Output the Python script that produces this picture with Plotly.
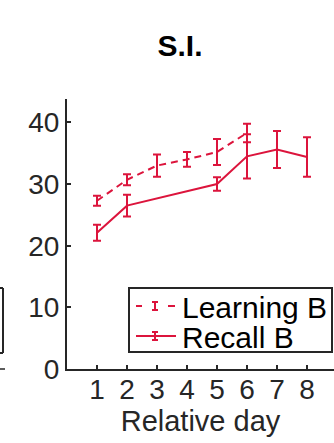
import plotly.graph_objects as go

learn_x = [1, 2, 3, 4, 5, 6]
learn_y = [27.3, 30.7, 33.0, 34.0, 35.2, 38.3]
learn_err = [0.8, 0.9, 1.8, 1.2, 2.1, 1.5]

recall_x = [1, 2, 5, 6, 7, 8]
recall_y = [22.1, 26.5, 30.0, 34.5, 35.6, 34.4]
recall_err = [1.3, 1.75, 1.1, 3.6, 3.0, 3.2]

x_ticks = [1, 2, 3, 4, 5, 6, 7, 8]
y_ticks = [0, 10, 20, 30, 40]
legend_names = ["Learning B", "Recall B"]

RED = "#DC143C"
DARK = "#262626"
FONT = "Liberation Sans, Arial, sans-serif"

W, H = 334, 443
ML, MT, MB, MR = 67, 99, 74, 0
PW, PH = W - ML - MR, H - MT - MB


def px(x):
    return (x - ML) / PW


def py(y):
    return (H - MB - y) / PH


fig = go.Figure()
fig.add_trace(go.Scatter(
    x=learn_x, y=learn_y, mode="lines", name=legend_names[0],
    line=dict(color=RED, width=2, dash="7px,5px"),
    error_y=dict(type="data", array=learn_err, color=RED, thickness=2, width=4),
))
fig.add_trace(go.Scatter(
    x=recall_x, y=recall_y, mode="lines", name=legend_names[1],
    line=dict(color=RED, width=2),
    error_y=dict(type="data", array=recall_err, color=RED, thickness=2, width=4),
))

shapes = []


def pline(x0, y0, x1, y1, color, width):
    shapes.append(dict(type="line", xref="paper", yref="paper",
                       x0=px(x0), x1=px(x1), y0=py(y0), y1=py(y1),
                       line=dict(color=color, width=width)))


# partial legend box of neighbouring panel (left edge)
pline(3, 288, 3, 353, DARK, 2)
pline(0, 288, 3, 288, DARK, 2)
pline(0, 353, 3, 353, DARK, 2)
pline(0, 369, 5, 369, DARK, 1.5)

# manual legend
shapes.append(dict(type="rect", xref="paper", yref="paper",
                   x0=px(129), x1=px(332), y0=py(352), y1=py(288),
                   line=dict(color=DARK, width=2), fillcolor="white", layer="above"))
rows = [306, 336]
for i, ry in enumerate(rows):
    if i == 0:
        pline(136, ry, 142, ry, RED, 2)
        pline(168, ry, 175, ry, RED, 2)
    else:
        pline(136, ry, 176, ry, RED, 2)
    pline(155, ry - 4, 155, ry + 4, RED, 2)
    pline(152, ry - 4, 158, ry - 4, RED, 2)
    pline(152, ry + 4, 158, ry + 4, RED, 2)

annotations = []
for name, ry in zip(legend_names, rows):
    annotations.append(dict(text=name, xref="paper", yref="paper", x=px(180), y=py(ry + 1),
                            xanchor="left", yanchor="middle", showarrow=False,
                            font=dict(family=FONT, size=30, color="black")))

fig.update_layout(
    width=W, height=H,
    margin=dict(l=ML, r=MR, t=MT, b=MB),
    paper_bgcolor="white", plot_bgcolor="white",
    font=dict(family=FONT, size=28, color=DARK),
    title=dict(text="<b>S.I.</b>", x=180 / W, xanchor="center", y=1 - 45 / H, yanchor="middle",
               font=dict(family=FONT, size=30, color="black")),
    showlegend=False,
    shapes=shapes,
    annotations=annotations,
    xaxis=dict(range=[0, 8.9], tickvals=x_ticks, ticks="inside", ticklen=4, tickwidth=1.5,
               tickcolor=DARK, showline=True, linecolor=DARK, linewidth=2,
               showgrid=False, zeroline=False, ticklabelstandoff=-6,
               title=dict(text="Relative day", standoff=5, font=dict(size=29)),
               tickfont=dict(size=28)),
    yaxis=dict(range=[0, 43.8], tickvals=y_ticks, ticks="inside", ticklen=4, tickwidth=1.5,
               tickcolor=DARK, showline=True, linecolor=DARK, linewidth=2,
               showgrid=False, zeroline=False, tickfont=dict(size=28)),
)

fig.write_html("out.html")
